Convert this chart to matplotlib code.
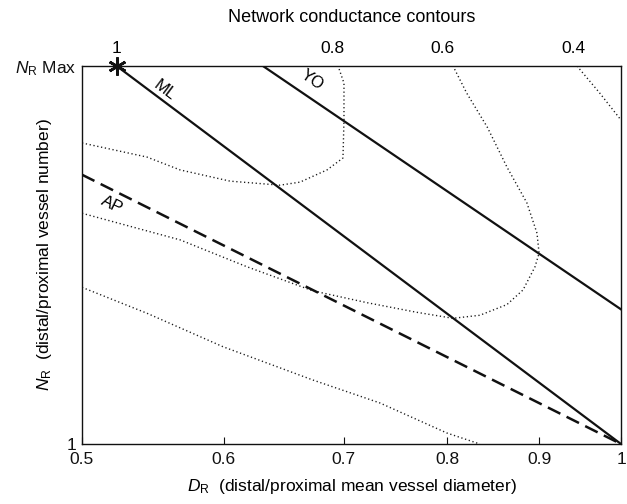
import matplotlib
matplotlib.use("Agg")
import matplotlib.pyplot as plt
import matplotlib.transforms as mtransforms
from matplotlib.ticker import NullLocator, FixedLocator, FixedFormatter

plt.rcParams['font.family'] = ['Liberation Sans', 'DejaVu Sans']
plt.rcParams['mathtext.fontset'] = 'custom'
plt.rcParams['mathtext.rm'] = 'Liberation Sans'
plt.rcParams['mathtext.it'] = 'Liberation Sans:italic'
plt.rcParams['lines.scale_dashes'] = False

# ---- data ----
NR_MAX = 7.0
x_ticks = [0.5, 0.6, 0.7, 0.8, 0.9, 1.0]
x_tick_labels = ['0.5', '0.6', '0.7', '0.8', '0.9', '1']

# scaling-law lines (endpoints, straight in log-log)
ml_dr = [0.5228, 1.0]
ml_nr = [7.0, 1.0]
ap_dr = [0.5, 1.0]
ap_nr = [4.0, 1.0]
yo_dr = [0.631, 1.0]
yo_nr = [7.0, 2.0]

# network conductance contours (dotted)
c08_dr = [0.500, 0.5436, 0.5672, 0.6048, 0.645, 0.6618, 0.6852, 0.6994, 0.7003, 0.7003, 0.695]
c08_nr = [4.71, 4.38, 4.10, 3.87, 3.79, 3.85, 4.10, 4.36, 5.30, 6.41, 7.0]

c06_dr = [0.500, 0.5672, 0.6182, 0.6729, 0.7213, 0.769, 0.8057, 0.834, 0.8636, 0.8816,
          0.8953, 0.900, 0.8976, 0.886, 0.8636, 0.842, 0.820, 0.8057]
c06_nr = [3.28, 2.86, 2.49, 2.20, 2.07, 1.97, 1.91, 1.94, 2.05, 2.21,
          2.49, 2.67, 2.96, 3.46, 4.16, 5.11, 6.09, 7.0]

c04_dr = [0.945, 0.973, 1.0]
c04_nr = [7.0, 6.09, 5.30]

clow_dr = [0.500, 0.5436, 0.5994, 0.6729, 0.7335, 0.7995, 0.834]
clow_nr = [2.24, 1.96, 1.65, 1.39, 1.235, 1.058, 1.0]

top_label_dr = [0.5228, 0.6896, 0.7944, 0.9401]
top_labels = ['1', '0.8', '0.6', '0.4']

star_dr = [0.5228]
star_nr = [7.0]

# ---- figure ----
W, H = 627, 504
fig = plt.figure(figsize=(W / 100, H / 100), dpi=100)
ax = fig.add_axes([82 / W, 1 - 444 / H, 539 / W, 378 / H])
ax.set_xscale('log')
ax.set_yscale('log')
ax.set_xlim(0.5, 1.0)
ax.set_ylim(1.0, NR_MAX)

ink = '#111111'
dot_kw = dict(color='#1a1a1a', lw=1.0, dashes=(0.9, 1.9), dash_capstyle='butt')
for xs, ys in [(c08_dr, c08_nr), (c06_dr, c06_nr), (c04_dr, c04_nr), (clow_dr, clow_nr)]:
    ax.plot(xs, ys, linestyle='--', **dot_kw)

ax.plot(ml_dr, ml_nr, color=ink, lw=1.6)
ax.plot(yo_dr, yo_nr, color=ink, lw=1.6)
ax.plot(ap_dr, ap_nr, color=ink, lw=1.8, linestyle='--', dashes=(10, 5))

ax.plot(star_dr, star_nr, linestyle='none', marker=(6, 2, 0), markersize=13,
        mew=1.9, color=ink, clip_on=False, zorder=5)

fs = 12.5
ax.text(0.5563, 6.19, 'ML', rotation=-36.9, ha='center', va='center', fontsize=fs - 0.5)
ax.text(0.672, 6.51, 'YO', rotation=-34.2, ha='center', va='center', fontsize=fs - 0.5)
ax.text(0.5197, 3.42, 'AP', rotation=-26.5, ha='center', va='center', fontsize=fs - 0.5)

trans = mtransforms.blended_transform_factory(ax.transData, ax.transAxes)
for xd, lab in zip(top_label_dr, top_labels):
    ax.text(xd, 1.047, lab, transform=trans, ha='center', va='center', fontsize=fs)
ax.text(0.5, 1.127, 'Network conductance contours', transform=ax.transAxes,
        ha='center', va='center', fontsize=fs + 0.5)

ax.xaxis.set_major_locator(FixedLocator(x_ticks))
ax.xaxis.set_major_formatter(FixedFormatter(x_tick_labels))
ax.xaxis.set_minor_locator(NullLocator())
ax.yaxis.set_major_locator(FixedLocator([1.0, NR_MAX]))
ax.yaxis.set_major_formatter(FixedFormatter(['1', r'$N_{\mathrm{R}}$ Max']))
ax.yaxis.set_minor_locator(NullLocator())
ax.tick_params(axis='x', direction='in', length=5, width=0.8, labelsize=fs, pad=6, colors=ink)
ax.tick_params(axis='y', direction='in', length=0, labelsize=fs, pad=4, colors=ink)

for s in ax.spines.values():
    s.set_linewidth(1.0)
    s.set_color(ink)

ax.set_xlabel(r'$D_{\mathrm{R}}$  (distal/proximal mean vessel diameter)', fontsize=fs, labelpad=7)
ax.set_ylabel(r'$N_{\mathrm{R}}$  (distal/proximal vessel number)', fontsize=fs,
              va='center')
ax.yaxis.set_label_coords((45 - 82) / 539, 0.5)

fig.savefig('out.png', dpi=100)
